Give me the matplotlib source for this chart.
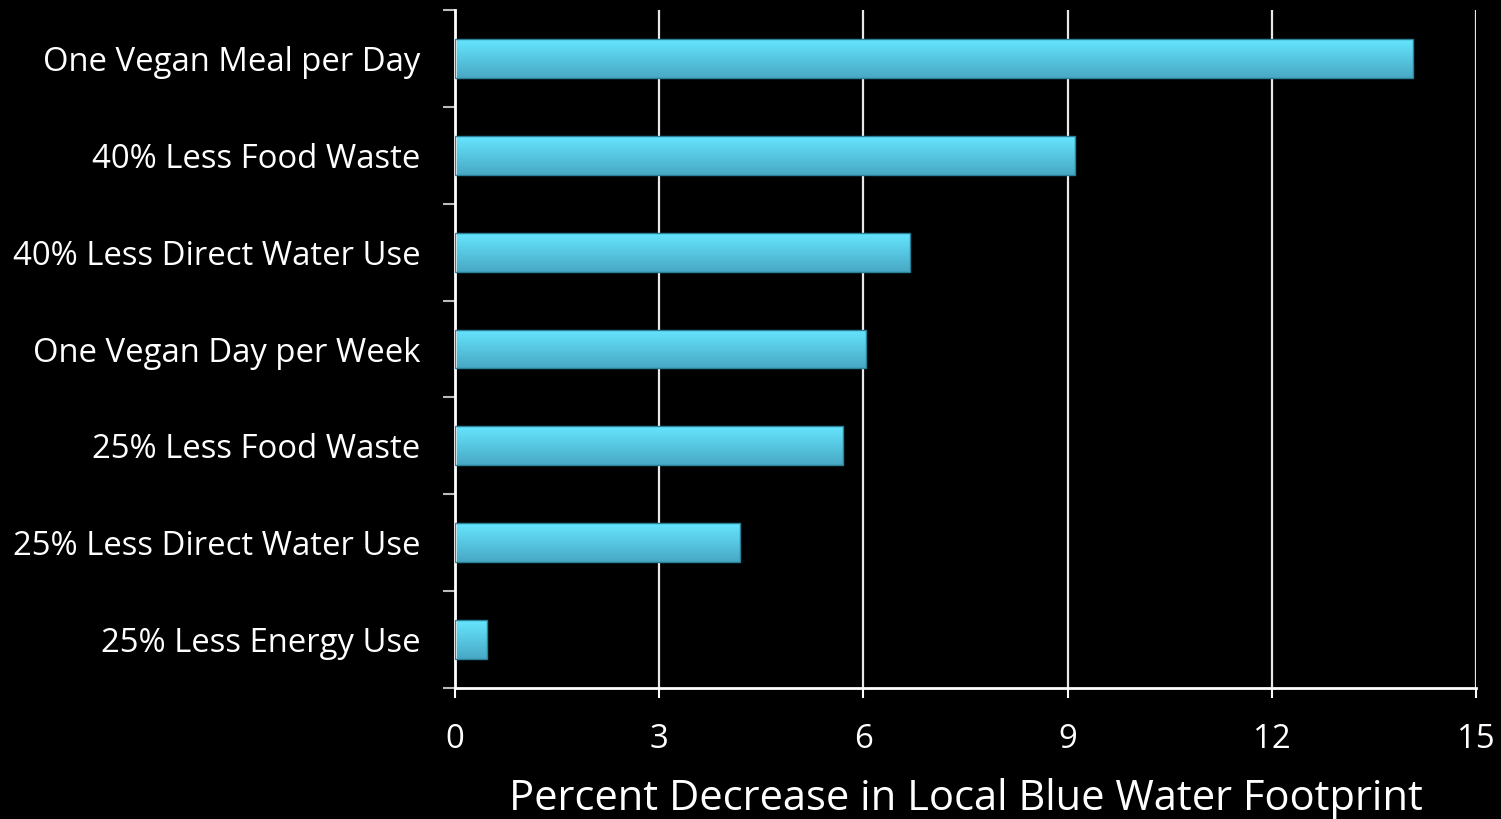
import numpy as np
import matplotlib.pyplot as plt
from matplotlib.colors import LinearSegmentedColormap

categories = [
    'One Vegan Meal per Day',
    '40% Less Food Waste',
    '40% Less Direct Water Use',
    'One Vegan Day per Week',
    '25% Less Food Waste',
    '25% Less Direct Water Use',
    '25% Less Energy Use',
]
values = [14.07, 9.11, 6.68, 6.04, 5.70, 4.19, 0.47]
xticks = [0, 3, 6, 9, 12, 15]

plt.rcParams['font.family'] = ['Open Sans', 'DejaVu Sans']

fig = plt.figure(figsize=(15.01, 8.19), dpi=100, facecolor='black')
ax = fig.add_axes([455 / 1501, 1 - 688 / 819, (1476 - 455) / 1501, (688 - 10) / 819])
ax.set_facecolor('black')

n = len(categories)
ypos = np.arange(n)[::-1]
bars = ax.barh(ypos, values, height=0.4, facecolor='none',
               edgecolor='#2a8098', linewidth=1.0, zorder=3)

# vertical gradient fill, light cyan on top fading to teal
cmap = LinearSegmentedColormap.from_list('bar', ['#48a8c4', '#66e6ff'])
grad = np.linspace(0, 1, 256).reshape(-1, 1)
for b in bars:
    x0, y0 = b.get_x(), b.get_y()
    w, h = b.get_width(), b.get_height()
    im = ax.imshow(grad, cmap=cmap, aspect='auto', origin='lower',
                   extent=(x0, x0 + w, y0, y0 + h), zorder=2)
    im.set_clip_path(b)

ax.set_xlim(0, 15)
ax.set_ylim(-0.5, n - 0.5)
ax.set_xticks(xticks)
ax.set_xticklabels([str(t) for t in xticks])
ax.set_yticks(ypos)
ax.set_yticklabels(categories)
ax.set_yticks(np.arange(n + 1) - 0.5, minor=True)

ax.grid(axis='x', color='#e8e8e8', linewidth=1.6, zorder=1)
ax.set_axisbelow(True)

for side in ['top', 'right']:
    ax.spines[side].set_visible(False)
for side in ['left', 'bottom']:
    ax.spines[side].set_color('white')
    ax.spines[side].set_linewidth(2)

ax.tick_params(axis='y', which='major', length=0, pad=25, labelsize=23.7, labelcolor='white')
ax.tick_params(axis='y', which='minor', length=9, width=1.5, color='#bbbbbb')
ax.tick_params(axis='x', length=7, width=1.5, color='white', pad=18,
               labelsize=23.7, labelcolor='white')

ax.set_xlabel('Percent Decrease in Local Blue Water Footprint', color='white',
              fontsize=30, labelpad=16)

fig.savefig('out.png', dpi=100, facecolor='black')
